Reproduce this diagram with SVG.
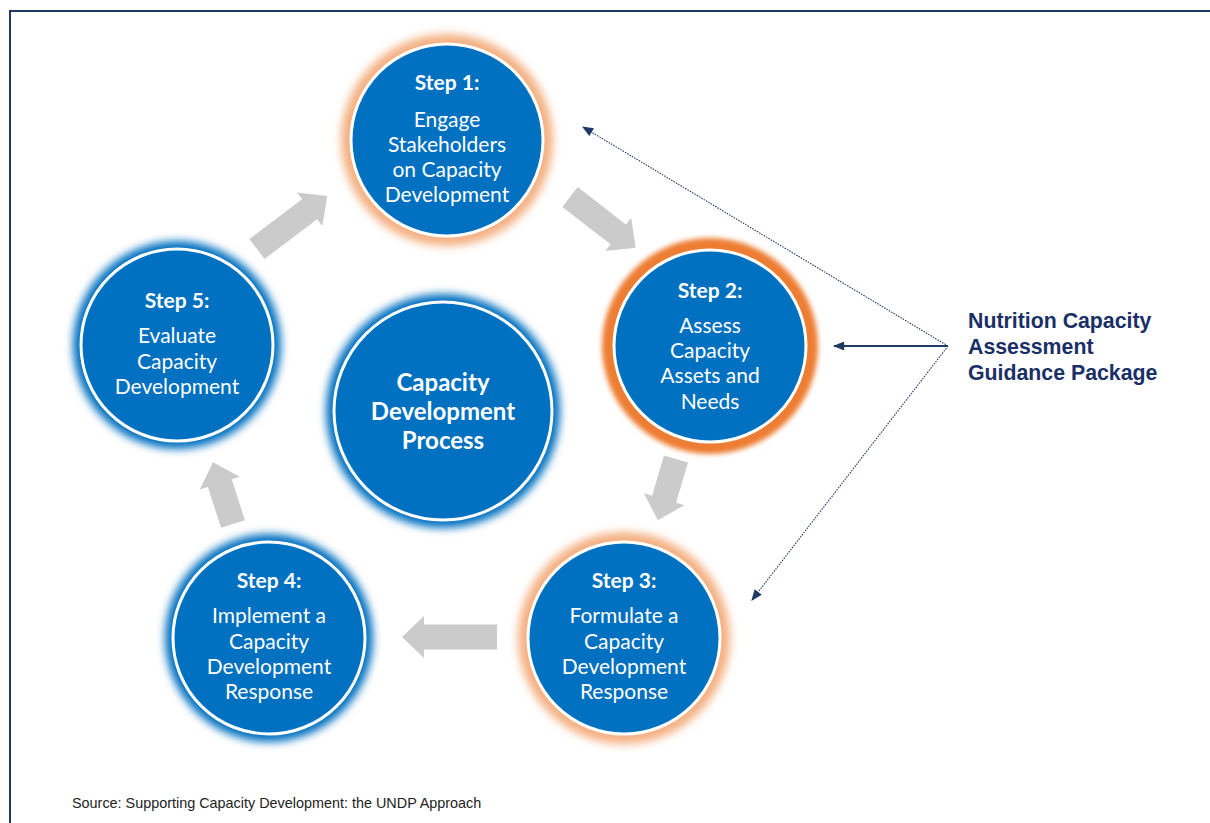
<svg xmlns="http://www.w3.org/2000/svg" width="1210" height="823" viewBox="0 0 1210 823">
<defs>
<style>
.bg{fill:#ffffff}
.frame{fill:none;stroke:#1f3864;stroke-width:2}
.core{fill:#0070c0;stroke:#ffffff;stroke-width:3}
.glow-blue{fill:#0070c0;filter:url(#blur4)}
.glow-lo{fill:#f4b183;filter:url(#blur4)}
.glow-o{fill:#ed7d31;filter:url(#blur3)}
.t{font-family:Lato,"Open Sans",sans-serif;font-size:21px;fill:#ffffff;text-anchor:middle}
.tb{font-weight:bold}
.tc{font-family:Lato,"Open Sans",sans-serif;font-size:24px;font-weight:bold;fill:#ffffff;text-anchor:middle}
.garrow{fill:#cbcbcb}
.dot{fill:none;stroke:#1f3864;stroke-width:1.1;stroke-dasharray:1.5 1.2}
.solid{fill:none;stroke:#1f3864;stroke-width:2}
.lbl{font-family:"Liberation Sans",Arial,sans-serif;font-size:21.3px;font-weight:bold;fill:#1a2f66}
.src{font-family:"Liberation Sans",Arial,sans-serif;font-size:14.4px;fill:#222222}
</style>
<filter id="blur4" x="-20%" y="-20%" width="140%" height="140%"><feGaussianBlur stdDeviation="4"/></filter>
<filter id="blur3" x="-20%" y="-20%" width="140%" height="140%"><feGaussianBlur stdDeviation="2.5"/></filter>
<marker id="ah" viewBox="0 0 10 8" refX="9" refY="4" markerWidth="12" markerHeight="9" markerUnits="userSpaceOnUse" orient="auto"><path d="M0,0 L10,4 L0,8 Z" fill="#1f3864"/></marker>
</defs>
<rect class="bg" x="0" y="0" width="1210" height="823"/>
<path class="frame" d="M10,823 L10,11 L1210,11"/>

<g id="arrows">
<path class="garrow" transform="translate(570,197) rotate(37.7)" d="M0,-12.5 L61,-12.5 L61,-21 L83,0 L61,21 L61,12.5 L0,12.5 Z"/>
<path class="garrow" transform="translate(676,459) rotate(106.5)" d="M0,-12.5 L42,-12.5 L42,-21 L64,0 L42,21 L42,12.5 L0,12.5 Z"/>
<path class="garrow" transform="translate(497,637) rotate(180)" d="M0,-12.5 L73,-12.5 L73,-21 L95,0 L73,21 L73,12.5 L0,12.5 Z"/>
<path class="garrow" transform="translate(233,524) rotate(-107.9)" d="M0,-12.5 L43,-12.5 L43,-21 L65,0 L43,21 L43,12.5 L0,12.5 Z"/>
<path class="garrow" transform="translate(257,249) rotate(-37.1)" d="M0,-12.5 L66,-12.5 L66,-21 L88,0 L66,21 L66,12.5 L0,12.5 Z"/>
</g>

<g id="step1">
<circle class="glow-lo" cx="447" cy="140" r="106"/>
<circle class="core" cx="447" cy="140" r="96"/>
<text class="t tb" x="447" y="90">Step 1:</text>
<text class="t" x="447" y="127">Engage</text>
<text class="t" x="447" y="152">Stakeholders</text>
<text class="t" x="447" y="177">on Capacity</text>
<text class="t" x="447" y="202">Development</text>
</g>

<g id="step2">
<circle class="glow-o" cx="710" cy="346" r="108"/>
<circle class="core" cx="710" cy="346" r="96"/>
<text class="t tb" x="710" y="298">Step 2:</text>
<text class="t" x="710" y="333">Assess</text>
<text class="t" x="710" y="358">Capacity</text>
<text class="t" x="710" y="383">Assets and</text>
<text class="t" x="710" y="409">Needs</text>
</g>

<g id="step3">
<circle class="glow-lo" cx="624" cy="638" r="106"/>
<circle class="core" cx="624" cy="638" r="96"/>
<text class="t tb" x="624" y="588">Step 3:</text>
<text class="t" x="624" y="623">Formulate a</text>
<text class="t" x="624" y="649">Capacity</text>
<text class="t" x="624" y="674">Development</text>
<text class="t" x="624" y="699">Response</text>
</g>

<g id="step4">
<circle class="glow-blue" cx="269" cy="638" r="104"/>
<circle class="core" cx="269" cy="638" r="96"/>
<text class="t tb" x="269" y="588">Step 4:</text>
<text class="t" x="269" y="623">Implement a</text>
<text class="t" x="269" y="649">Capacity</text>
<text class="t" x="269" y="674">Development</text>
<text class="t" x="269" y="699">Response</text>
</g>

<g id="step5">
<circle class="glow-blue" cx="177" cy="345" r="104"/>
<circle class="core" cx="177" cy="345" r="96"/>
<text class="t tb" x="177" y="308">Step 5:</text>
<text class="t" x="177" y="343">Evaluate</text>
<text class="t" x="177" y="369">Capacity</text>
<text class="t" x="177" y="394">Development</text>
</g>

<g id="center">
<circle class="glow-blue" cx="443" cy="411" r="117"/>
<circle class="core" cx="443" cy="411" r="109"/>
<text class="tc" x="443" y="391">Capacity</text>
<text class="tc" x="443" y="420">Development</text>
<text class="tc" x="443" y="449">Process</text>
</g>

<g id="connectors">
<line class="dot" x1="948" y1="346" x2="583" y2="127" marker-end="url(#ah)"/>
<line class="solid" x1="948" y1="346" x2="834" y2="346" marker-end="url(#ah)"/>
<line class="dot" x1="948" y1="346" x2="752" y2="600" marker-end="url(#ah)"/>
</g>

<g id="label">
<text class="lbl" x="968" y="328">Nutrition Capacity</text>
<text class="lbl" x="968" y="354">Assessment</text>
<text class="lbl" x="968" y="380">Guidance Package</text>
</g>

<text class="src" x="72" y="808">Source: Supporting Capacity Development: the UNDP Approach</text>
</svg>
